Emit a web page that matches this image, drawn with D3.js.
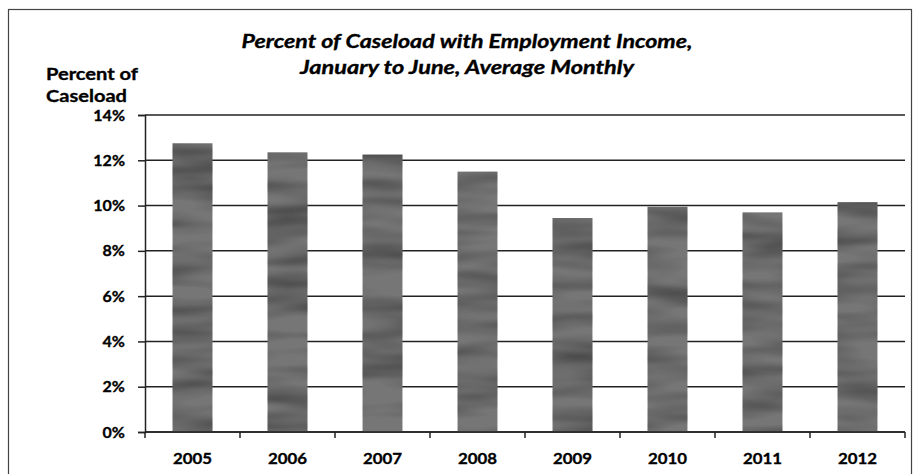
<!DOCTYPE html>
<html>
<head>
<meta charset="utf-8">
<script src="https://cdn.jsdelivr.net/npm/d3@7"></script>
<style>
  body { margin: 0; background: #fff; }
  text { font-family: Lato, "DejaVu Sans", sans-serif; font-weight: bold; fill: #000; stroke: #000; stroke-width: 0.35px; }
</style>
</head>
<body>
<div id="my_dataviz"></div>
<script>
// data
var years = ["2005", "2006", "2007", "2008", "2009", "2010", "2011", "2012"];
var pctWithIncome = [12.75, 12.35, 12.25, 11.5, 9.45, 9.95, 9.7, 10.15];
var yTicks = [0, 2, 4, 6, 8, 10, 12, 14];
var titleLines = ["Percent of Caseload with Employment Income,", "January to June, Average Monthly"];
var yTitleLines = ["Percent of", "Caseload"];

var W = 917, H = 474;
var margin = {top: 115, right: 12, bottom: 42, left: 145};
var width = 905 - margin.left,
    height = 432 - margin.top;

var svg = d3.select("#my_dataviz")
  .append("svg")
  .attr("width", W)
  .attr("height", H);

// noisy grey fill like the scanned bars
var defs = svg.append("defs");
var f = defs.append("filter").attr("id", "grain")
  .attr("x", 0).attr("y", 0).attr("width", 1).attr("height", 1);
f.append("feTurbulence").attr("type", "fractalNoise")
  .attr("baseFrequency", "0.01 0.06").attr("numOctaves", 2).attr("seed", 5).attr("result", "n");
f.append("feColorMatrix").attr("in", "n").attr("type", "matrix")
  .attr("values", "0 0 0 0 0  0 0 0 0 0  0 0 0 0 0  0 0 0 -1.2 0.8").attr("result", "a");
f.append("feComposite").attr("in", "a").attr("in2", "SourceGraphic").attr("operator", "in").attr("result", "dark");
f.append("feMerge").call(function (m) {
  m.append("feMergeNode").attr("in", "SourceGraphic");
  m.append("feMergeNode").attr("in", "dark");
});

// outer border
svg.append("rect")
  .attr("x", 8.5).attr("y", 9.5)
  .attr("width", 903).attr("height", 480)
  .attr("fill", "none").attr("stroke", "#444").attr("stroke-width", 1.2);

var g = svg.append("g")
  .attr("transform", "translate(" + margin.left + "," + margin.top + ")");

var x = d3.scaleBand()
  .domain(years)
  .range([0, width])
  .paddingInner(0.58)
  .paddingOuter(0.29);

var y = d3.scaleLinear()
  .domain([0, 14])
  .range([height, 0]);

// gridlines
g.append("g")
  .selectAll("line")
  .data(yTicks)
  .enter()
  .append("line")
  .attr("x1", 0).attr("x2", width)
  .attr("y1", function (d) { return y(d); })
  .attr("y2", function (d) { return y(d); })
  .attr("stroke", "#222").attr("stroke-width", 1.5);

// bars
g.append("g")
  .selectAll("rect")
  .data(pctWithIncome)
  .enter()
  .append("rect")
  .attr("x", function (d, i) { return x(years[i]); })
  .attr("y", function (d) { return y(d); })
  .attr("width", x.bandwidth())
  .attr("height", function (d) { return height - y(d); })
  .attr("fill", "#767676")
  .attr("filter", "url(#grain)");

// y axis
var yAxis = g.append("g")
  .call(d3.axisLeft(y).tickValues(yTicks).tickSize(7).tickPadding(13)
    .tickFormat(function (d) { return d + "%"; }));
yAxis.select(".domain").attr("stroke", "#222").attr("stroke-width", 1.5);
yAxis.selectAll(".tick line").attr("stroke", "#222").attr("stroke-width", 1.5);
yAxis.selectAll("text").style("font-size", "16px").attr("fill", "#000");

// x axis: ticks sit between categories like the original
var xAxisG = g.append("g")
  .attr("transform", "translate(0," + height + ")");
xAxisG.append("line")
  .attr("x1", 0).attr("x2", width)
  .attr("stroke", "#222").attr("stroke-width", 1.5);
var step = x.step();
xAxisG.selectAll(".sep")
  .data(d3.range(years.length + 1))
  .enter()
  .append("line")
  .attr("x1", function (i) { return x(years[0]) - x.paddingOuter() * step + i * step; })
  .attr("x2", function (i) { return x(years[0]) - x.paddingOuter() * step + i * step; })
  .attr("y1", 0).attr("y2", 6)
  .attr("stroke", "#222").attr("stroke-width", 1.5);
xAxisG.selectAll(".lbl")
  .data(years)
  .enter()
  .append("text")
  .attr("x", function (d) { return x(d) + x.bandwidth() / 2; })
  .attr("y", 32)
  .attr("text-anchor", "middle")
  .style("font-size", "16px")
  .attr("textLength", 39)
  .attr("lengthAdjust", "spacingAndGlyphs")
  .text(function (d) { return d; });

// titles
var titleLen = [451, 334];
svg.selectAll(".title")
  .data(titleLines)
  .enter()
  .append("text")
  .attr("x", 467)
  .attr("y", function (d, i) { return 48 + i * 26; })
  .attr("text-anchor", "middle")
  .style("font-size", "19px")
  .style("font-style", "italic")
  .attr("textLength", function (d, i) { return titleLen[i]; })
  .attr("lengthAdjust", "spacingAndGlyphs")
  .text(function (d) { return d; });

// axis title, sits just above the 14% label
var yTitleLen = [92, 81];
svg.selectAll(".ytitle")
  .data(yTitleLines)
  .enter()
  .append("text")
  .attr("x", 46)
  .attr("y", function (d, i) { return 80 + i * 22; })
  .style("font-size", "17px")
  .attr("textLength", function (d, i) { return yTitleLen[i]; })
  .attr("lengthAdjust", "spacingAndGlyphs")
  .text(function (d) { return d; });
</script>
</body>
</html>
